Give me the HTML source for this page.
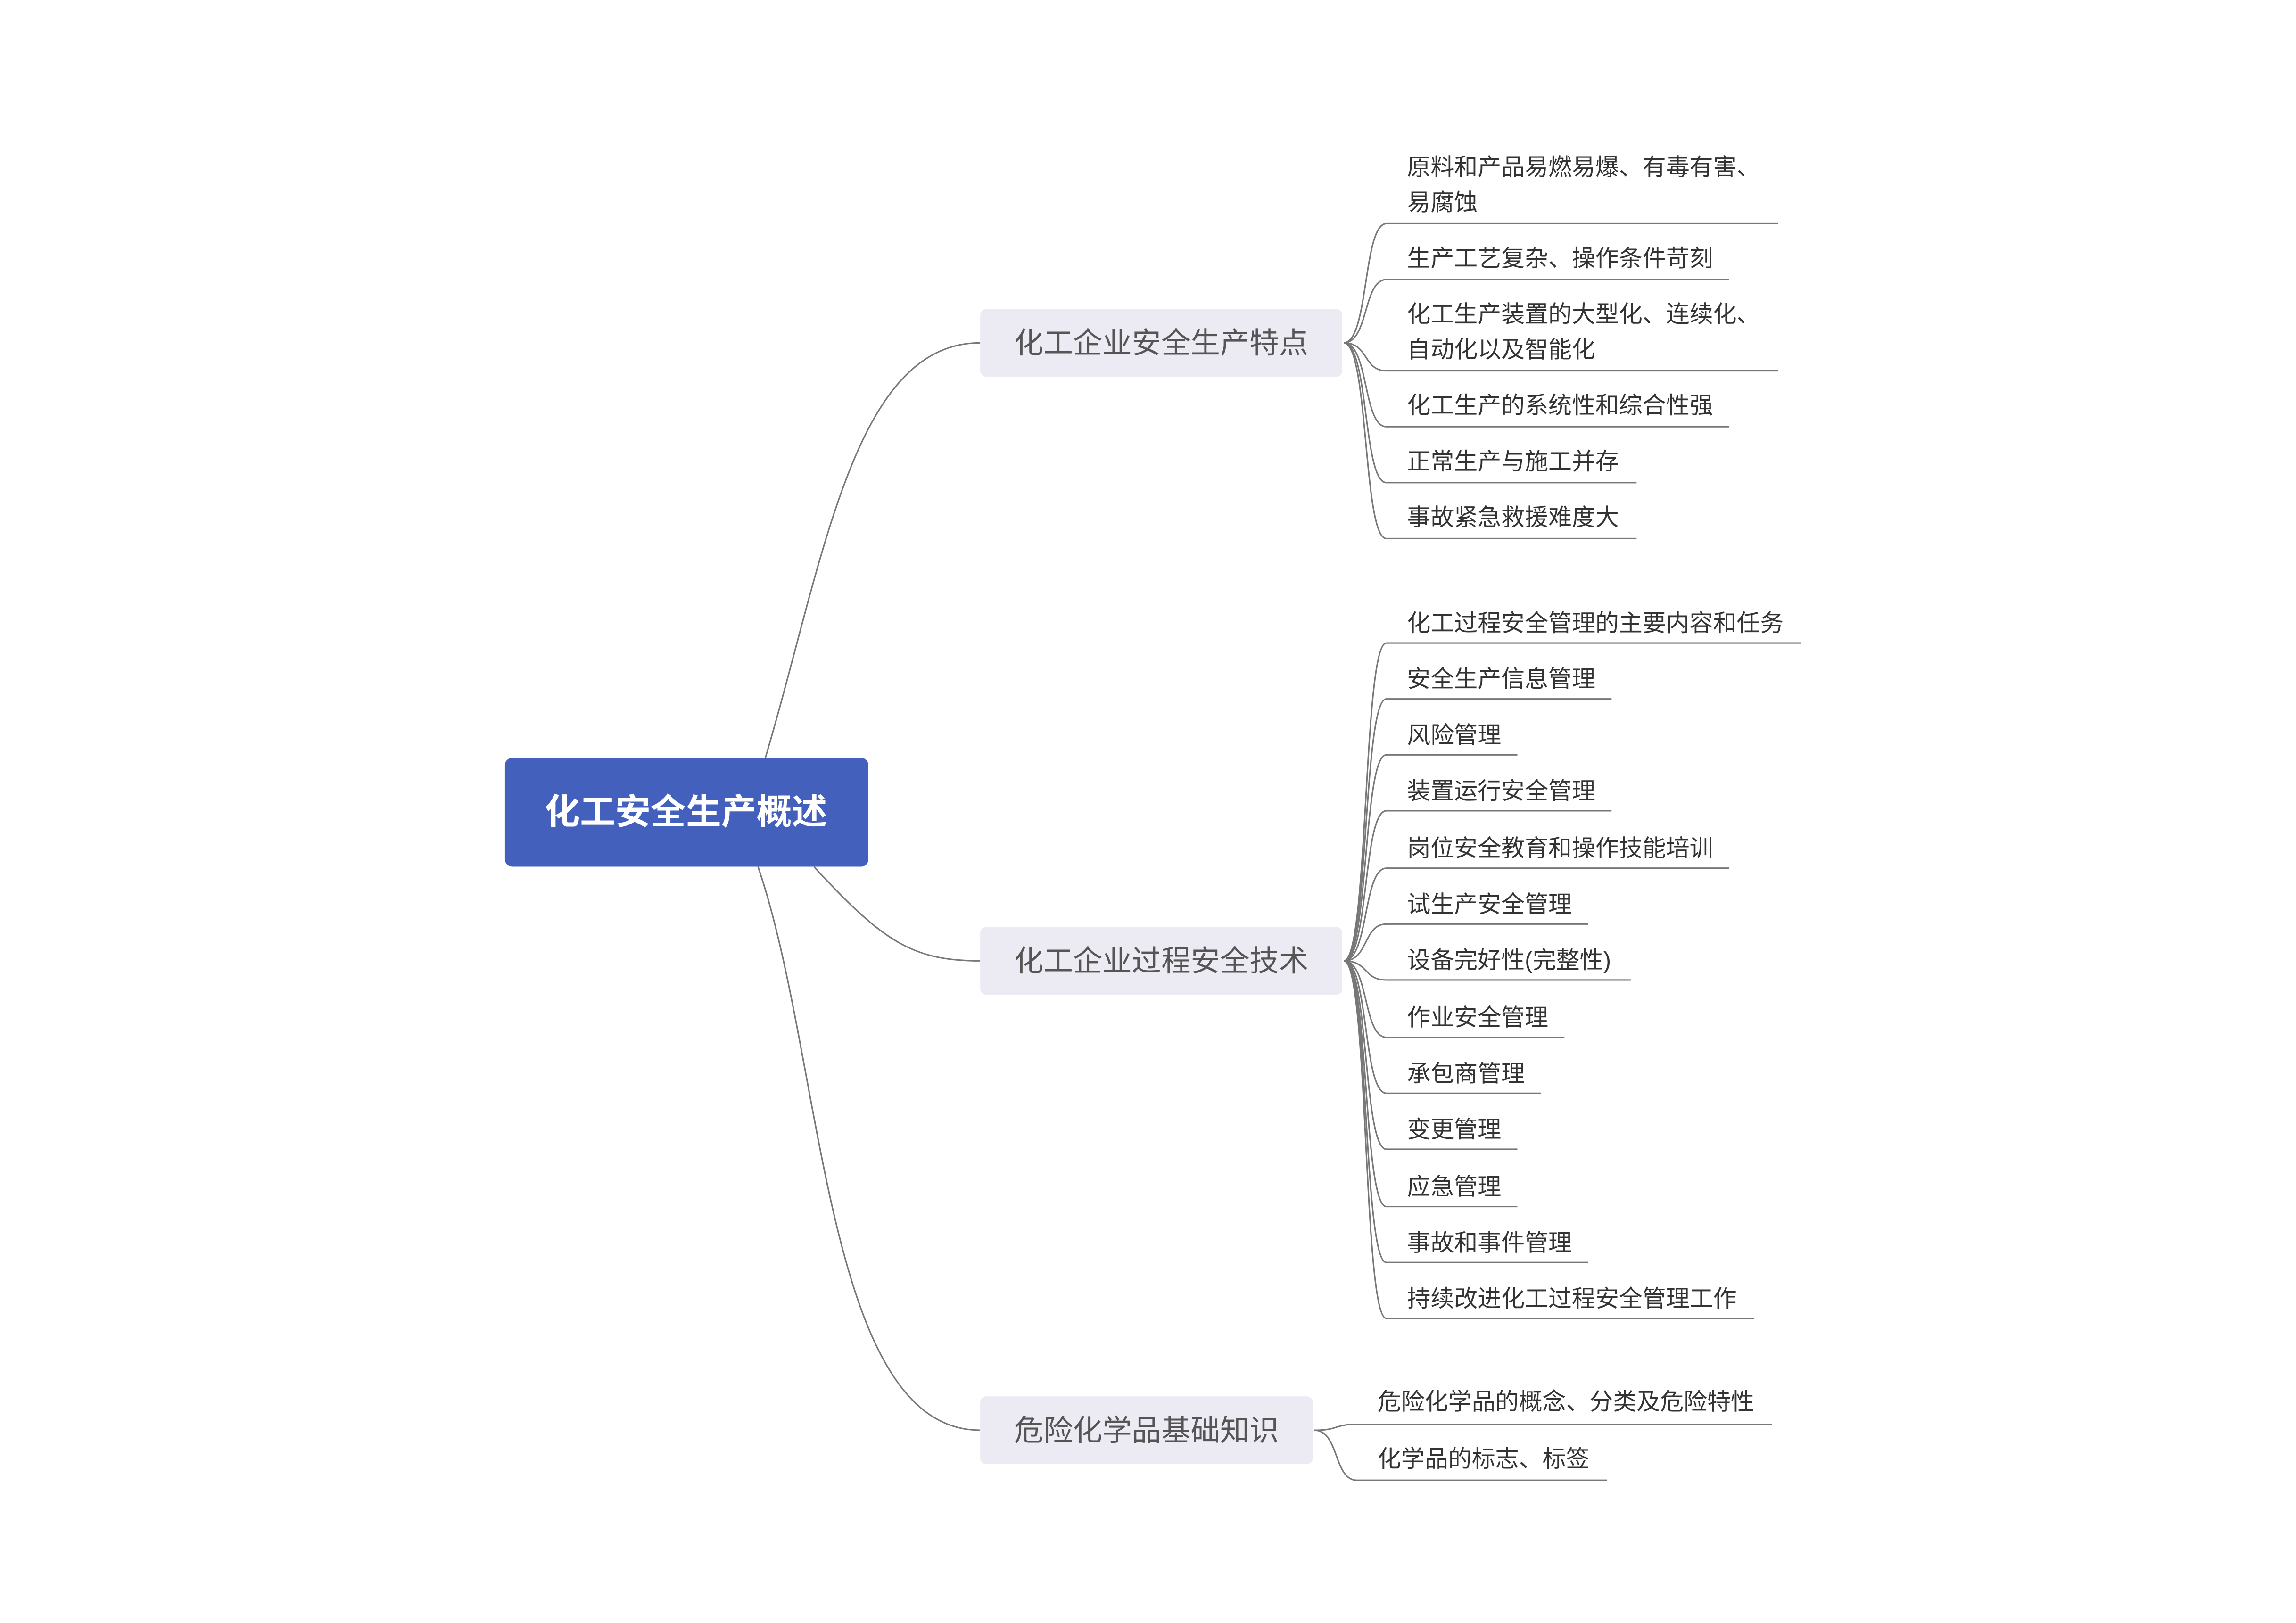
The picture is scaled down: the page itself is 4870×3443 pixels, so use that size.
<!DOCTYPE html>
<html><head><meta charset="utf-8"><style>
html,body{margin:0;padding:0;background:#fff;}
svg{display:block;}
text{font-family:"Liberation Sans","Noto Sans CJK SC",sans-serif;}
.leaf{font-size:16px;fill:#333;}
.br{font-size:20px;fill:#555;}
.ln{fill:none;stroke:#777;stroke-width:1;}
</style></head><body>
<svg width="4870" height="3443" viewBox="0 0 1560 1103" xmlns="http://www.w3.org/2000/svg">
<rect width="1560" height="1103" fill="#fff"/>
<!-- root connectors -->
<path class="ln" d="M520 515 C560 380 580 233 666 233"/>
<path class="ln" d="M553 589 C600 640 620 653 666 653"/>
<path class="ln" d="M515 589 C560 720 560 972 666 972"/>
<!-- root -->
<rect x="343" y="515" width="247" height="74" rx="5" fill="#4360bd"/>
<text x="466" y="560" text-anchor="middle" font-size="24" font-weight="bold" fill="#fff">化工安全生产概述</text>
<!-- branches -->
<rect x="666" y="210" width="246" height="46" rx="4" fill="#ecebf3"/>
<text class="br" x="789" y="240" text-anchor="middle">化工企业安全生产特点</text>
<rect x="666" y="630" width="246" height="46" rx="4" fill="#ecebf3"/>
<text class="br" x="789" y="660" text-anchor="middle">化工企业过程安全技术</text>
<rect x="666" y="949" width="226" height="46" rx="4" fill="#ecebf3"/>
<text class="br" x="779" y="979" text-anchor="middle">危险化学品基础知识</text>
<!-- group 1 -->
<g class="ln">
<path d="M913 233 C930 233 926 152 942 152 L1208 152"/>
<path d="M913 233 C930 233 926 190 942 190 L1175 190"/>
<path d="M913 233 C930 233 926 252 942 252 L1208 252"/>
<path d="M913 233 C930 233 926 290 942 290 L1175 290"/>
<path d="M913 233 C930 233 926 328 942 328 L1112 328"/>
<path d="M913 233 C930 233 926 366 942 366 L1112 366"/>
</g>
<text class="leaf" x="956" y="119">原料和产品易燃易爆、有毒有害、</text>
<text class="leaf" x="956" y="143">易腐蚀</text>
<text class="leaf" x="956" y="181">生产工艺复杂、操作条件苛刻</text>
<text class="leaf" x="956" y="219">化工生产装置的大型化、连续化、</text>
<text class="leaf" x="956" y="243">自动化以及智能化</text>
<text class="leaf" x="956" y="281">化工生产的系统性和综合性强</text>
<text class="leaf" x="956" y="319">正常生产与施工并存</text>
<text class="leaf" x="956" y="357">事故紧急救援难度大</text>
<!-- group 2 -->
<g class="ln">
<path d="M913 653 C930 653 926 437 942 437 L1224 437"/>
<path d="M913 653 C930 653 926 475 942 475 L1095 475"/>
<path d="M913 653 C930 653 926 513 942 513 L1031 513"/>
<path d="M913 653 C930 653 926 551 942 551 L1095 551"/>
<path d="M913 653 C930 653 926 590 942 590 L1175 590"/>
<path d="M913 653 C930 653 926 628 942 628 L1079 628"/>
<path d="M913 653 C930 653 926 666 942 666 L1108 666"/>
<path d="M913 653 C930 653 926 705 942 705 L1063 705"/>
<path d="M913 653 C930 653 926 743 942 743 L1047 743"/>
<path d="M913 653 C930 653 926 781 942 781 L1031 781"/>
<path d="M913 653 C930 653 926 820 942 820 L1031 820"/>
<path d="M913 653 C930 653 926 858 942 858 L1079 858"/>
<path d="M913 653 C930 653 926 896 942 896 L1192 896"/>
</g>
<text class="leaf" x="956" y="429">化工过程安全管理的主要内容和任务</text>
<text class="leaf" x="956" y="467">安全生产信息管理</text>
<text class="leaf" x="956" y="505">风险管理</text>
<text class="leaf" x="956" y="543">装置运行安全管理</text>
<text class="leaf" x="956" y="582">岗位安全教育和操作技能培训</text>
<text class="leaf" x="956" y="620">试生产安全管理</text>
<text class="leaf" x="956" y="658">设备完好性(完整性)</text>
<text class="leaf" x="956" y="697">作业安全管理</text>
<text class="leaf" x="956" y="735">承包商管理</text>
<text class="leaf" x="956" y="773">变更管理</text>
<text class="leaf" x="956" y="812">应急管理</text>
<text class="leaf" x="956" y="850">事故和事件管理</text>
<text class="leaf" x="956" y="888">持续改进化工过程安全管理工作</text>
<!-- group 3 -->
<g class="ln">
<path d="M893 972 C910 972 906 968 922 968 L1204 968"/>
<path d="M893 972 C910 972 906 1006 922 1006 L1092 1006"/>
</g>
<text class="leaf" x="936" y="958">危险化学品的概念、分类及危险特性</text>
<text class="leaf" x="936" y="997">化学品的标志、标签</text>
</svg>
</body></html>
